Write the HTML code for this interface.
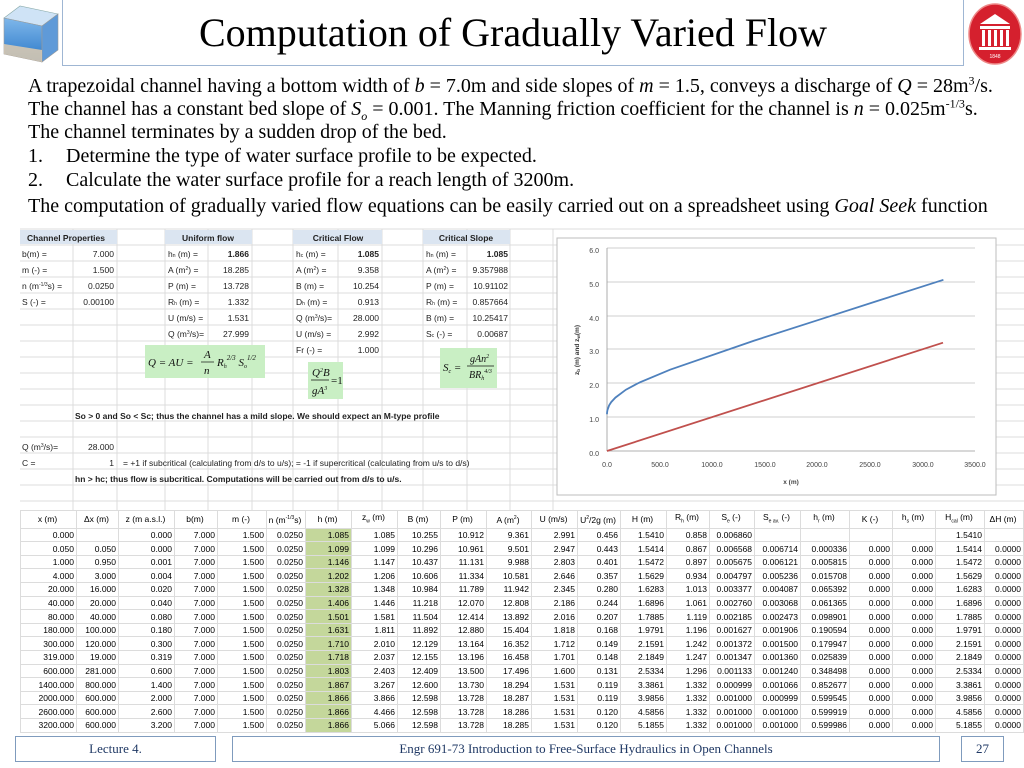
<!DOCTYPE html>
<html><head><meta charset="utf-8"><style>
body{margin:0;width:1024px;height:768px;background:#fff;position:relative;overflow:hidden;font-family:"Liberation Serif",serif}
.ab{position:absolute}
.t{font-size:20px;line-height:23px;color:#000;white-space:nowrap}
.t sup,.t sub{font-size:12px;line-height:0}
table.d{position:absolute;left:20px;top:510px;border-collapse:collapse;font-family:"Liberation Sans Narrow","Liberation Sans",sans-serif;font-size:8.5px;table-layout:fixed}
table.d td{border:1px solid #dcdcdc;height:12.6px;padding:0 2px 0 0;text-align:right;line-height:12px;white-space:nowrap;overflow:hidden}
table.d tr.h td{text-align:center;height:13px}
table.d td.g{background:#c4d79b}
.fb{position:absolute;border:1.5px solid #7f9bbd;font-size:13px;color:#1f3864;text-align:center;line-height:24px;height:24px}
</style></head><body>
<!-- header -->
<div class="ab" style="left:62px;top:0;width:900px;height:65px;border:1px solid #9fb6d3;border-top:none"></div>
<div class="ab" style="left:62px;top:7px;width:902px;text-align:center;font-size:40px;line-height:52px">Computation of Gradually Varied Flow</div>
<svg class="ab" style="left:0;top:0" width="62" height="66">
<defs><linearGradient id="w" x1="0" y1="0" x2="0" y2="1"><stop offset="0" stop-color="#7fb7ea"/><stop offset="1" stop-color="#2a78c8"/></linearGradient></defs>
<polygon points="4,18 20,6 58,14 42,26" fill="#cfe3f6" stroke="#8aa" stroke-width="0.6"/>
<polygon points="4,18 42,26 42,62 4,54" fill="url(#w)" stroke="#999" stroke-width="0.6"/>
<polygon points="42,26 58,14 58,50 42,62" fill="#5f9ad8" stroke="#999" stroke-width="0.6"/>
<polygon points="4,44 42,50 42,62 4,54" fill="#e8cfae" opacity="0.8"/>
</svg>
<svg class="ab" style="left:966px;top:2px" width="58" height="64">
<ellipse cx="29" cy="32" rx="26" ry="30" fill="#d5202e" stroke="#e88" stroke-width="1.5"/>
<polygon points="14,22 29,12 44,22" fill="#fff"/>
<rect x="14" y="24" width="30" height="3" fill="#fff"/>
<rect x="16" y="28" width="3" height="16" fill="#fff"/><rect x="22" y="28" width="3" height="16" fill="#fff"/><rect x="28" y="28" width="3" height="16" fill="#fff"/><rect x="34" y="28" width="3" height="16" fill="#fff"/><rect x="40" y="28" width="3" height="16" fill="#fff"/>
<rect x="13" y="45" width="32" height="3" fill="#fff"/>
<text x="29" y="56" font-size="5" fill="#fff" text-anchor="middle" font-family="Liberation Sans">1848</text>
</svg>
<!-- body text -->
<div class="ab t" style="left:28px;top:75px">A trapezoidal channel having a bottom width of <i>b</i> = 7.0m and side slopes of <i>m</i> = 1.5, conveys a discharge of <i>Q</i> = 28m<sup>3</sup>/s.</div>
<div class="ab t" style="left:28px;top:98px">The channel has a constant bed slope of <i>S<sub>o</sub></i> = 0.001. The Manning friction coefficient for the channel is <i>n</i> = 0.025m<sup>-1/3</sup>s.</div>
<div class="ab t" style="left:28px;top:121px">The channel terminates by a sudden drop of the bed.</div>
<div class="ab t" style="left:28px;top:145px">1.</div><div class="ab t" style="left:66px;top:145px">Determine the type of water surface profile to be expected.</div>
<div class="ab t" style="left:28px;top:169px">2.</div><div class="ab t" style="left:66px;top:169px">Calculate the water surface profile for a reach length of 3200m.</div>
<div class="ab t" style="left:28px;top:195px">The computation of gradually varied flow equations can be easily carried out on a spreadsheet using <i>Goal Seek</i> function</div>

<!-- top spreadsheet -->
<svg class="ab" style="left:0;top:0" width="1024" height="768" font-family="Liberation Sans, sans-serif" font-size="8.5">
<g stroke="#dcdcdc" stroke-width="1">
<line x1="20" y1="229" x2="1028" y2="229"/>
<line x1="20" y1="245" x2="1028" y2="245"/><line x1="20" y1="261" x2="1028" y2="261"/><line x1="20" y1="277" x2="1028" y2="277"/><line x1="20" y1="293" x2="1028" y2="293"/><line x1="20" y1="309" x2="1028" y2="309"/><line x1="20" y1="325" x2="1028" y2="325"/><line x1="20" y1="341" x2="1028" y2="341"/><line x1="20" y1="357" x2="1028" y2="357"/><line x1="20" y1="373" x2="1028" y2="373"/><line x1="20" y1="389" x2="1028" y2="389"/><line x1="20" y1="405" x2="1028" y2="405"/><line x1="20" y1="421" x2="1028" y2="421"/><line x1="20" y1="437" x2="1028" y2="437"/><line x1="20" y1="453" x2="1028" y2="453"/><line x1="20" y1="469" x2="1028" y2="469"/><line x1="20" y1="485" x2="1028" y2="485"/><line x1="20" y1="501" x2="1028" y2="501"/>
<line x1="73" y1="229" x2="73" y2="510"/><line x1="117" y1="229" x2="117" y2="510"/><line x1="165" y1="229" x2="165" y2="510"/><line x1="208" y1="229" x2="208" y2="510"/><line x1="252" y1="229" x2="252" y2="510"/><line x1="293" y1="229" x2="293" y2="510"/><line x1="338" y1="229" x2="338" y2="510"/><line x1="382" y1="229" x2="382" y2="510"/><line x1="423" y1="229" x2="423" y2="510"/><line x1="467" y1="229" x2="467" y2="510"/><line x1="510" y1="229" x2="510" y2="510"/><line x1="553" y1="229" x2="553" y2="510"/>
</g>
<g fill="#dbe5f1"><rect x="20" y="230" width="97" height="14"/><rect x="165" y="230" width="87" height="14"/><rect x="293" y="230" width="89" height="14"/><rect x="423" y="230" width="87" height="14"/></g>
<g font-weight="bold" text-anchor="middle" fill="#222"><text x="66" y="241">Channel Properties</text><text x="208" y="241">Uniform flow</text><text x="338" y="241">Critical Flow</text><text x="466" y="241">Critical Slope</text></g>
<g fill="#222">
<text x="22" y="257">b(m) =</text><text x="22" y="273">m (-) =</text><text x="22" y="289">n (m<tspan font-size="5" dy="-3">-1/3</tspan><tspan dy="3">s) =</tspan></text><text x="22" y="305">S (-) =</text>
<text x="168" y="257">h<tspan font-size="5">n</tspan> (m) =</text><text x="168" y="273">A (m<tspan font-size="5" dy="-3">2</tspan><tspan dy="3">) =</tspan></text><text x="168" y="289">P (m) =</text><text x="168" y="305">R<tspan font-size="5">h</tspan> (m) =</text><text x="168" y="321">U (m/s) =</text><text x="168" y="337">Q (m<tspan font-size="5" dy="-3">3</tspan><tspan dy="3">/s)=</tspan></text>
<text x="296" y="257">h<tspan font-size="5">c</tspan> (m) =</text><text x="296" y="273">A (m<tspan font-size="5" dy="-3">2</tspan><tspan dy="3">) =</tspan></text><text x="296" y="289">B (m) =</text><text x="296" y="305">D<tspan font-size="5">h</tspan> (m) =</text><text x="296" y="321">Q (m<tspan font-size="5" dy="-3">3</tspan><tspan dy="3">/s)=</tspan></text><text x="296" y="337">U (m/s) =</text><text x="296" y="353">Fr (-) =</text>
<text x="426" y="257">h<tspan font-size="5">n</tspan> (m) =</text><text x="426" y="273">A (m<tspan font-size="5" dy="-3">2</tspan><tspan dy="3">) =</tspan></text><text x="426" y="289">P (m) =</text><text x="426" y="305">R<tspan font-size="5">h</tspan> (m) =</text><text x="426" y="321">B (m) =</text><text x="426" y="337">S<tspan font-size="5">c</tspan> (-) =</text>
</g>
<g fill="#222" text-anchor="end">
<text x="114" y="257">7.000</text><text x="114" y="273">1.500</text><text x="114" y="289">0.0250</text><text x="114" y="305">0.00100</text>
<text x="249" y="257" font-weight="bold">1.866</text><text x="249" y="273">18.285</text><text x="249" y="289">13.728</text><text x="249" y="305">1.332</text><text x="249" y="321">1.531</text><text x="249" y="337">27.999</text>
<text x="379" y="257" font-weight="bold">1.085</text><text x="379" y="273">9.358</text><text x="379" y="289">10.254</text><text x="379" y="305">0.913</text><text x="379" y="321">28.000</text><text x="379" y="337">2.992</text><text x="379" y="353">1.000</text>
<text x="508" y="257" font-weight="bold">1.085</text><text x="508" y="273">9.357988</text><text x="508" y="289">10.91102</text><text x="508" y="305">0.857664</text><text x="508" y="321">10.25417</text><text x="508" y="337">0.00687</text>
<text x="114" y="450">28.000</text><text x="114" y="466">1</text>
</g>
<g fill="#222">
<text x="22" y="450">Q (m<tspan font-size="5" dy="-3">3</tspan><tspan dy="3">/s)=</tspan></text><text x="22" y="466">C =</text>
<text x="123" y="466">= +1 if subcritical (calculating from d/s to u/s); = -1 if supercritical (calculating from u/s to d/s)</text>
<text x="75" y="419" font-weight="bold">So &gt; 0 and So &lt; Sc; thus the channel has a mild slope. We should expect an M-type profile</text>
<text x="75" y="482" font-weight="bold">hn &gt; hc; thus flow is subcritical. Computations will be carried out from d/s to u/s.</text>
</g>
<!-- formulas -->
<g font-family="Liberation Serif, serif" font-style="italic" fill="#111">
<rect x="145" y="345" width="120" height="33" fill="#c9efc4"/>
<text x="148" y="366" font-size="11">Q = AU =</text>
<text x="204" y="358" font-size="11">A</text><line x1="201" y1="362" x2="214" y2="362" stroke="#111" stroke-width="0.7"/><text x="204" y="374" font-size="11">n</text>
<text x="217" y="366" font-size="11">R<tspan font-size="6" dy="2">h</tspan><tspan font-size="7" dy="-8">2/3</tspan><tspan font-size="11" dy="6"> S</tspan><tspan font-size="6" dy="2">o</tspan><tspan font-size="7" dy="-8">1/2</tspan></text>
<rect x="308" y="362" width="35" height="37" fill="#c9efc4"/>
<text x="312" y="376" font-size="11">Q<tspan font-size="6" dy="-4">2</tspan><tspan dy="4">B</tspan></text><line x1="311" y1="380" x2="329" y2="380" stroke="#111" stroke-width="0.7"/><text x="312" y="394" font-size="11">gA<tspan font-size="6" dy="-4">3</tspan></text><text x="331" y="384" font-size="11" font-style="normal">=1</text>
<rect x="440" y="348" width="57" height="40" fill="#c9efc4"/>
<text x="443" y="371" font-size="11">S<tspan font-size="6" dy="2">c</tspan><tspan dy="-2"> =</tspan></text>
<text x="470" y="362" font-size="10">gAn<tspan font-size="6" dy="-4">2</tspan></text><line x1="467" y1="366" x2="494" y2="366" stroke="#111" stroke-width="0.7"/><text x="469" y="378" font-size="10">BR<tspan font-size="6" dy="2">h</tspan><tspan font-size="6" dy="-7">4/3</tspan></text>
</g>
<!-- chart -->
<rect x="557" y="238" width="439" height="257" fill="#fff" stroke="#bdbdbd"/>
<g stroke="#bfbfbf" stroke-width="0.8">
<line x1="607" y1="248" x2="975" y2="248"/><line x1="607" y1="282" x2="975" y2="282"/><line x1="607" y1="316" x2="975" y2="316"/><line x1="607" y1="349" x2="975" y2="349"/><line x1="607" y1="383" x2="975" y2="383"/><line x1="607" y1="417" x2="975" y2="417"/>
<line x1="607" y1="451" x2="975" y2="451" stroke="#999"/><line x1="607" y1="248" x2="607" y2="451" stroke="#999"/>
</g>
<g font-size="7" fill="#444" text-anchor="end"><text x="599" y="253">6.0</text><text x="599" y="287">5.0</text><text x="599" y="321">4.0</text><text x="599" y="354">3.0</text><text x="599" y="388">2.0</text><text x="599" y="422">1.0</text><text x="599" y="456">0.0</text></g>
<g font-size="7" fill="#444" text-anchor="middle"><text x="607" y="467">0.0</text><text x="660" y="467">500.0</text><text x="712" y="467">1000.0</text><text x="765" y="467">1500.0</text><text x="817" y="467">2000.0</text><text x="870" y="467">2500.0</text><text x="923" y="467">3000.0</text><text x="975" y="467">3500.0</text>
<text x="791" y="484" font-weight="bold" font-size="6.5">x (m)</text></g>
<text transform="translate(579,350) rotate(-90)" font-size="6.5" font-weight="bold" fill="#333" text-anchor="middle">z<tspan font-size="4.5" dy="1">b</tspan><tspan dy="-1"> (m) and z</tspan><tspan font-size="4.5" dy="1">w</tspan><tspan dy="-1">(m)</tspan></text>
<polyline fill="none" stroke="#c0504d" stroke-width="1.8" points="607,451 943,342.7"/>
<polyline fill="none" stroke="#4f81bd" stroke-width="1.8" points="607,414.3 607,413.8 607.1,412.2 607.4,410.2 609.1,405.4 611.2,402.1 615.4,397.6 625.9,389.7 638.5,383 640.5,382.1 670.1,369.7 754.2,340.6 817.3,320.3 880.3,300 943.4,279.8"/>
</svg>

<!-- bottom table -->
<table class="d">
<colgroup><col style="width:56px"><col style="width:42px"><col style="width:56px"><col style="width:43px"><col style="width:49px"><col style="width:39px"><col style="width:46px"><col style="width:46px"><col style="width:43px"><col style="width:46px"><col style="width:45px"><col style="width:46px"><col style="width:43px"><col style="width:46px"><col style="width:43px"><col style="width:45px"><col style="width:46px"><col style="width:49px"><col style="width:43px"><col style="width:43px"><col style="width:49px"><col style="width:39px"></colgroup>
<tr class="h"><td>x (m)</td><td>Δx (m)</td><td>z (m a.s.l.)</td><td>b(m)</td><td>m (-)</td><td>n (m<sup style="font-size:5px">-1/3</sup>s)</td><td>h (m)</td><td>z<sub style="font-size:5px">w</sub> (m)</td><td>B (m)</td><td>P (m)</td><td>A (m<sup style="font-size:5px">2</sup>)</td><td>U (m/s)</td><td>U<sup style="font-size:5px">2</sup>/2g (m)</td><td>H (m)</td><td>R<sub style="font-size:5px">h</sub> (m)</td><td>S<sub style="font-size:5px">e</sub> (-)</td><td>S<sub style="font-size:5px">e av.</sub> (-)</td><td>h<sub style="font-size:5px">r</sub> (m)</td><td>K (-)</td><td>h<sub style="font-size:5px">s</sub> (m)</td><td>H<sub style="font-size:5px">cal</sub> (m)</td><td>ΔH (m)</td></tr>
<tr><td>0.000</td><td></td><td>0.000</td><td>7.000</td><td>1.500</td><td>0.0250</td><td class="g">1.085</td><td>1.085</td><td>10.255</td><td>10.912</td><td>9.361</td><td>2.991</td><td>0.456</td><td>1.5410</td><td>0.858</td><td>0.006860</td><td></td><td></td><td></td><td></td><td>1.5410</td><td></td></tr>
<tr><td>0.050</td><td>0.050</td><td>0.000</td><td>7.000</td><td>1.500</td><td>0.0250</td><td class="g">1.099</td><td>1.099</td><td>10.296</td><td>10.961</td><td>9.501</td><td>2.947</td><td>0.443</td><td>1.5414</td><td>0.867</td><td>0.006568</td><td>0.006714</td><td>0.000336</td><td>0.000</td><td>0.000</td><td>1.5414</td><td>0.0000</td></tr>
<tr><td>1.000</td><td>0.950</td><td>0.001</td><td>7.000</td><td>1.500</td><td>0.0250</td><td class="g">1.146</td><td>1.147</td><td>10.437</td><td>11.131</td><td>9.988</td><td>2.803</td><td>0.401</td><td>1.5472</td><td>0.897</td><td>0.005675</td><td>0.006121</td><td>0.005815</td><td>0.000</td><td>0.000</td><td>1.5472</td><td>0.0000</td></tr>
<tr><td>4.000</td><td>3.000</td><td>0.004</td><td>7.000</td><td>1.500</td><td>0.0250</td><td class="g">1.202</td><td>1.206</td><td>10.606</td><td>11.334</td><td>10.581</td><td>2.646</td><td>0.357</td><td>1.5629</td><td>0.934</td><td>0.004797</td><td>0.005236</td><td>0.015708</td><td>0.000</td><td>0.000</td><td>1.5629</td><td>0.0000</td></tr>
<tr><td>20.000</td><td>16.000</td><td>0.020</td><td>7.000</td><td>1.500</td><td>0.0250</td><td class="g">1.328</td><td>1.348</td><td>10.984</td><td>11.789</td><td>11.942</td><td>2.345</td><td>0.280</td><td>1.6283</td><td>1.013</td><td>0.003377</td><td>0.004087</td><td>0.065392</td><td>0.000</td><td>0.000</td><td>1.6283</td><td>0.0000</td></tr>
<tr><td>40.000</td><td>20.000</td><td>0.040</td><td>7.000</td><td>1.500</td><td>0.0250</td><td class="g">1.406</td><td>1.446</td><td>11.218</td><td>12.070</td><td>12.808</td><td>2.186</td><td>0.244</td><td>1.6896</td><td>1.061</td><td>0.002760</td><td>0.003068</td><td>0.061365</td><td>0.000</td><td>0.000</td><td>1.6896</td><td>0.0000</td></tr>
<tr><td>80.000</td><td>40.000</td><td>0.080</td><td>7.000</td><td>1.500</td><td>0.0250</td><td class="g">1.501</td><td>1.581</td><td>11.504</td><td>12.414</td><td>13.892</td><td>2.016</td><td>0.207</td><td>1.7885</td><td>1.119</td><td>0.002185</td><td>0.002473</td><td>0.098901</td><td>0.000</td><td>0.000</td><td>1.7885</td><td>0.0000</td></tr>
<tr><td>180.000</td><td>100.000</td><td>0.180</td><td>7.000</td><td>1.500</td><td>0.0250</td><td class="g">1.631</td><td>1.811</td><td>11.892</td><td>12.880</td><td>15.404</td><td>1.818</td><td>0.168</td><td>1.9791</td><td>1.196</td><td>0.001627</td><td>0.001906</td><td>0.190594</td><td>0.000</td><td>0.000</td><td>1.9791</td><td>0.0000</td></tr>
<tr><td>300.000</td><td>120.000</td><td>0.300</td><td>7.000</td><td>1.500</td><td>0.0250</td><td class="g">1.710</td><td>2.010</td><td>12.129</td><td>13.164</td><td>16.352</td><td>1.712</td><td>0.149</td><td>2.1591</td><td>1.242</td><td>0.001372</td><td>0.001500</td><td>0.179947</td><td>0.000</td><td>0.000</td><td>2.1591</td><td>0.0000</td></tr>
<tr><td>319.000</td><td>19.000</td><td>0.319</td><td>7.000</td><td>1.500</td><td>0.0250</td><td class="g">1.718</td><td>2.037</td><td>12.155</td><td>13.196</td><td>16.458</td><td>1.701</td><td>0.148</td><td>2.1849</td><td>1.247</td><td>0.001347</td><td>0.001360</td><td>0.025839</td><td>0.000</td><td>0.000</td><td>2.1849</td><td>0.0000</td></tr>
<tr><td>600.000</td><td>281.000</td><td>0.600</td><td>7.000</td><td>1.500</td><td>0.0250</td><td class="g">1.803</td><td>2.403</td><td>12.409</td><td>13.500</td><td>17.496</td><td>1.600</td><td>0.131</td><td>2.5334</td><td>1.296</td><td>0.001133</td><td>0.001240</td><td>0.348498</td><td>0.000</td><td>0.000</td><td>2.5334</td><td>0.0000</td></tr>
<tr><td>1400.000</td><td>800.000</td><td>1.400</td><td>7.000</td><td>1.500</td><td>0.0250</td><td class="g">1.867</td><td>3.267</td><td>12.600</td><td>13.730</td><td>18.294</td><td>1.531</td><td>0.119</td><td>3.3861</td><td>1.332</td><td>0.000999</td><td>0.001066</td><td>0.852677</td><td>0.000</td><td>0.000</td><td>3.3861</td><td>0.0000</td></tr>
<tr><td>2000.000</td><td>600.000</td><td>2.000</td><td>7.000</td><td>1.500</td><td>0.0250</td><td class="g">1.866</td><td>3.866</td><td>12.598</td><td>13.728</td><td>18.287</td><td>1.531</td><td>0.119</td><td>3.9856</td><td>1.332</td><td>0.001000</td><td>0.000999</td><td>0.599545</td><td>0.000</td><td>0.000</td><td>3.9856</td><td>0.0000</td></tr>
<tr><td>2600.000</td><td>600.000</td><td>2.600</td><td>7.000</td><td>1.500</td><td>0.0250</td><td class="g">1.866</td><td>4.466</td><td>12.598</td><td>13.728</td><td>18.286</td><td>1.531</td><td>0.120</td><td>4.5856</td><td>1.332</td><td>0.001000</td><td>0.001000</td><td>0.599919</td><td>0.000</td><td>0.000</td><td>4.5856</td><td>0.0000</td></tr>
<tr><td>3200.000</td><td>600.000</td><td>3.200</td><td>7.000</td><td>1.500</td><td>0.0250</td><td class="g">1.866</td><td>5.066</td><td>12.598</td><td>13.728</td><td>18.285</td><td>1.531</td><td>0.120</td><td>5.1855</td><td>1.332</td><td>0.001000</td><td>0.001000</td><td>0.599986</td><td>0.000</td><td>0.000</td><td>5.1855</td><td>0.0000</td></tr>
</table>

<!-- footer -->
<div class="fb" style="left:15px;top:736px;width:199px">Lecture 4.</div>
<div class="fb" style="left:232px;top:736px;width:706px">Engr 691-73 Introduction to Free-Surface Hydraulics in Open Channels</div>
<div class="fb" style="left:961px;top:736px;width:41px">27</div>
</body></html>
